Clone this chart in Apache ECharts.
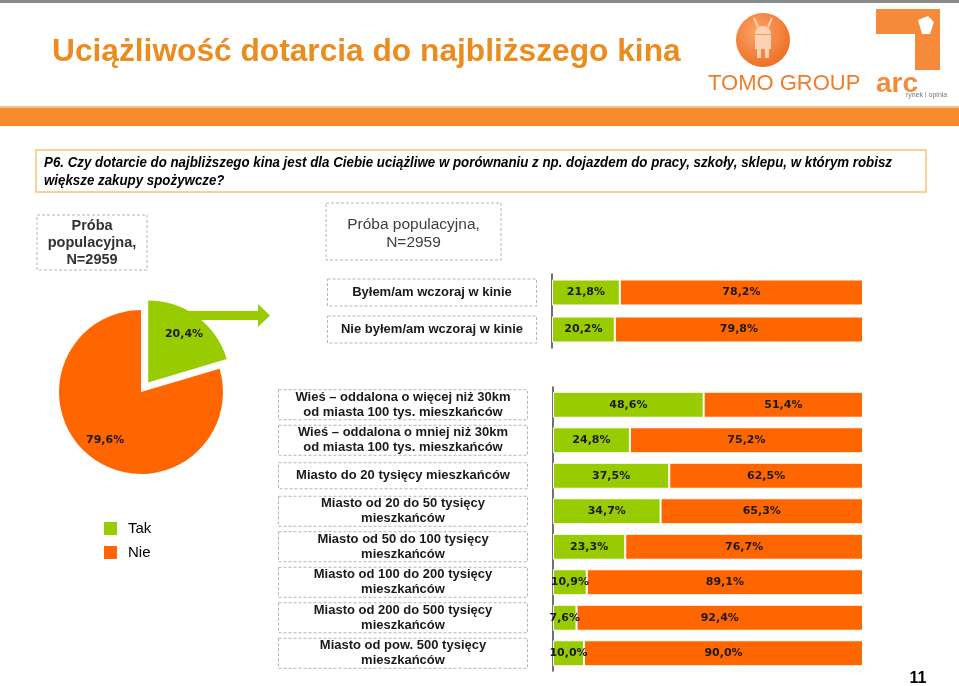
<!DOCTYPE html>
<html><head><meta charset="utf-8">
<script src="https://cdn.jsdelivr.net/npm/echarts@6/dist/echarts.min.js"></script>
<style>html,body{margin:0;padding:0;background:#fff}#c{width:959px;height:686px}</style>
</head><body><div id="c"></div>
<script>
// ---------- DATA ----------
const legendNames = ['Tak', 'Nie'];
const pieValues = [20.4, 79.6];
const visitCategories = ['Byłem/am wczoraj w kinie', 'Nie byłem/am wczoraj w kinie'];
const visitTak = [21.8, 20.2];
const visitNie = [78.2, 79.8];
const placeCategories = [
  'Wieś – oddalona o więcej niż 30km\nod miasta 100 tys. mieszkańców',
  'Wieś – oddalona o mniej niż 30km\nod miasta 100 tys. mieszkańców',
  'Miasto do 20 tysięcy mieszkańców',
  'Miasto od 20 do 50 tysięcy\nmieszkańców',
  'Miasto od 50 do 100 tysięcy\nmieszkańców',
  'Miasto od 100 do 200 tysięcy\nmieszkańców',
  'Miasto od 200 do 500 tysięcy\nmieszkańców',
  'Miasto od pow. 500 tysięcy\nmieszkańców'
];
const placeTak = [48.6, 24.8, 37.5, 34.7, 23.3, 10.9, 7.6, 10.0];
const placeNie = [51.4, 75.2, 62.5, 65.3, 76.7, 89.1, 92.4, 90.0];

const titleText = 'Uciążliwość dotarcia do najbliższego kina';
const questionLines = [
  'P6. Czy dotarcie do najbliższego kina jest dla Ciebie uciążliwe w porównaniu z np. dojazdem do pracy, szkoły, sklepu, w którym robisz',
  'większe zakupy spożywcze?'
];
const sampleLeft = ['Próba', 'populacyjna,', 'N=2959'];
const sampleTop = ['Próba populacyjna,', 'N=2959'];
const pageNumber = '11';

// ---------- STYLE ----------
const GREEN = '#99CC00';
const ORANGE = '#FF6600';
const SANS = '"Liberation Sans", Arial, sans-serif';
const LABEL_FONT = '"DejaVu Sans", Verdana, sans-serif';

function fmt(v) { return v.toFixed(1).replace('.', ',') + '%'; }
const mctx = document.createElement('canvas').getContext('2d');
function measure(font, text) { mctx.font = font; return mctx.measureText(text).width; }

// question text: fit first line to the box width (narrow italic look)
const qFont = 'italic bold 14px ' + SANS;
const qScale = 848 / measure(qFont, questionLines[0]);
// title: fit to width
const tBase = measure('bold 32px ' + SANS, titleText);
const tSize = 32 * 628 / tBase;

const chart = echarts.init(document.getElementById('c'), null, { renderer: 'canvas' });

function barSeries(name, data, color, idx, stack) {
  return {
    type: 'bar', name, data, stack, xAxisIndex: idx, yAxisIndex: idx, barWidth: 26,
    itemStyle: { color, borderColor: '#ffffff', borderWidth: 1 },
    label: {
      show: true, position: 'inside', formatter: p => fmt(p.value),
      color: '#1a1a1a', fontFamily: LABEL_FONT, fontWeight: 'bold', fontSize: 11
    },
    emphasis: { disabled: true }, silent: true
  };
}

const catLabelBase = {
  align: 'center', color: '#1a1a1a', fontFamily: SANS, fontWeight: 'bold',
  fontSize: 13, lineHeight: 15, borderColor: '#b4b4b4', borderWidth: 1, borderType: [3, 2]
};

const graphics = [
  // top gray line
  { type: 'rect', shape: { x: 0, y: 0, width: 959, height: 3 }, style: { fill: '#8a8a8a' } },
  // title
  { type: 'text', x: 52, y: 52, style: { text: titleText, font: 'bold ' + tSize.toFixed(1) + 'px ' + SANS, fill: '#EB8C1E', textVerticalAlign: 'middle' } },
  // orange band
  { type: 'rect', shape: { x: 0, y: 107, width: 959, height: 19 }, style: { fill: '#F68B2E' } },
  { type: 'rect', shape: { x: 0, y: 106, width: 959, height: 2 }, style: { fill: '#F9BE86' } },
  // question box
  { type: 'rect', shape: { x: 36, y: 150, width: 890, height: 42 }, style: { fill: '#fff', stroke: '#F8C46E', lineWidth: 1.5 } },
  { type: 'text', x: 44, y: 163, scaleX: qScale, style: { text: questionLines[0], font: qFont, fill: '#000', textVerticalAlign: 'middle' } },
  { type: 'text', x: 44, y: 181, scaleX: qScale, style: { text: questionLines[1], font: qFont, fill: '#000', textVerticalAlign: 'middle' } },
  // sample boxes
  { type: 'rect', shape: { x: 37, y: 215, width: 110, height: 55 }, style: { fill: 'none', stroke: '#b4b4b4', lineWidth: 1, lineDash: [3, 2] } },
  { type: 'rect', shape: { x: 326, y: 203, width: 175, height: 57 }, style: { fill: 'none', stroke: '#b4b4b4', lineWidth: 1, lineDash: [3, 2] } },
  // arrow
  { type: 'polygon', shape: { points: [[188, 311], [258, 311], [258, 304], [270, 315.5], [258, 327], [258, 320], [188, 320]] }, style: { fill: GREEN } },
  // page number
  { type: 'text', x: 918, y: 679, style: { text: pageNumber, font: 'bold 16px ' + SANS, fill: '#000', textAlign: 'center', textVerticalAlign: 'middle' } },
  // logo: TOMO GROUP
  { type: 'circle', shape: { cx: 763, cy: 40, r: 27 }, style: { fill: new echarts.graphic.RadialGradient(0.4, 0.35, 0.8, [{ offset: 0, color: '#FBA468' }, { offset: 1, color: '#EC6519' }]) } },
  { type: 'sector', shape: { cx: 763, cy: 34, r: 8, r0: 0, startAngle: Math.PI, endAngle: Math.PI * 2 }, style: { fill: '#FCD2B4' } },
  { type: 'rect', shape: { x: 755, y: 35, width: 16, height: 14 }, style: { fill: '#FCD2B4' } },
  { type: 'rect', shape: { x: 757, y: 49, width: 4, height: 9 }, style: { fill: '#FCD2B4' } },
  { type: 'rect', shape: { x: 765, y: 49, width: 4, height: 9 }, style: { fill: '#FCD2B4' } },
  { type: 'line', shape: { x1: 758, y1: 27, x2: 754, y2: 18 }, style: { stroke: '#FCD2B4', lineWidth: 2 } },
  { type: 'line', shape: { x1: 768, y1: 27, x2: 772, y2: 18 }, style: { stroke: '#FCD2B4', lineWidth: 2 } },
  { type: 'text', x: 708, y: 84, style: { text: 'TOMO GROUP', font: '22px ' + SANS, fill: '#F07C2C', textVerticalAlign: 'middle' } },
  // logo: arc
  { type: 'polygon', shape: { points: [[876, 9], [940, 9], [940, 70], [915, 70], [915, 34], [876, 34]] }, style: { fill: '#F58A3A' } },
  { type: 'polygon', shape: { points: [[918, 20], [928, 16], [934, 22], [930, 34], [922, 34]] }, style: { fill: '#ffffff' } },
  { type: 'text', x: 876, y: 84, style: { text: 'arc', font: 'bold 28px ' + SANS, fill: '#F58A3A', textVerticalAlign: 'middle' } },
  { type: 'text', x: 906, y: 95, style: { text: 'rynek i opinia', font: '7px ' + SANS, fill: '#777', textVerticalAlign: 'middle' } }
];
sampleLeft.forEach((t, i) => graphics.push({ type: 'text', x: 92, y: 226 + i * 17, style: { text: t, font: 'bold 14.5px ' + SANS, fill: '#333', textAlign: 'center', textVerticalAlign: 'middle' } }));
sampleTop.forEach((t, i) => graphics.push({ type: 'text', x: 413.5, y: 225 + i * 18, style: { text: t, font: '15.5px ' + SANS, fill: '#404040', textAlign: 'center', textVerticalAlign: 'middle' } }));

const option = {
  animation: false,
  color: [GREEN, ORANGE],
  legend: {
    data: legendNames, orient: 'vertical', left: 97, top: 515, itemWidth: 15, itemHeight: 15, itemGap: 7,
    icon: 'rect', selectedMode: false,
    textStyle: { fontSize: 15, color: '#000', fontFamily: SANS, padding: [0, 0, 0, 5] }
  },
  grid: [
    { left: 552, top: 274, width: 311, height: 74 },
    { left: 553, top: 387, width: 310, height: 284 }
  ],
  xAxis: [
    { gridIndex: 0, type: 'value', min: 0, max: 100, show: false },
    { gridIndex: 1, type: 'value', min: 0, max: 100, show: false }
  ],
  yAxis: [
    {
      gridIndex: 0, type: 'category', inverse: true, data: visitCategories,
      axisLine: { lineStyle: { color: '#404040', width: 1.5 } },
      axisTick: { length: 4, lineStyle: { color: '#404040', width: 1.5 } },
      axisLabel: Object.assign({}, catLabelBase, { margin: 120, width: 201, padding: [6, 4] })
    },
    {
      gridIndex: 1, type: 'category', inverse: true,
      data: placeCategories.map(c => c.indexOf('\n') < 0 ? { value: c, textStyle: { align: 'center', padding: [5.5, 4] } } : c),
      axisLine: { lineStyle: { color: '#404040', width: 1.5 } },
      axisTick: { length: 4, lineStyle: { color: '#404040', width: 1.5 } },
      axisLabel: Object.assign({}, catLabelBase, { margin: 150, width: 241, padding: [0, 4] })
    }
  ],
  series: [
    {
      type: 'pie', name: 'pie', center: [141, 392], radius: [0, 82], startAngle: 90, clockwise: true,
      selectedMode: 'single', selectedOffset: 12, silent: true,
      label: { show: false }, labelLine: { show: false }, emphasis: { disabled: true },
      data: legendNames.map((n, i) => ({ name: n, value: pieValues[i], selected: i === 0 }))
    },
    {
      type: 'pie', name: 'pieLabels', center: [141, 392], radius: [32, 82], startAngle: 90, clockwise: true,
      selectedMode: 'single', selectedOffset: 12, silent: true, z: 3,
      itemStyle: { color: 'rgba(0,0,0,0)' },
      label: { show: true, position: 'inside', formatter: p => fmt(p.value), color: '#1a1a1a', fontFamily: LABEL_FONT, fontWeight: 'bold', fontSize: 11 },
      labelLine: { show: false }, emphasis: { disabled: true },
      data: legendNames.map((n, i) => ({ name: n, value: pieValues[i], selected: i === 0 }))
    },
    barSeries('Tak', visitTak, GREEN, 0, 'visit'),
    barSeries('Nie', visitNie, ORANGE, 0, 'visit'),
    barSeries('Tak', placeTak, GREEN, 1, 'place'),
    barSeries('Nie', placeNie, ORANGE, 1, 'place')
  ],
  graphic: graphics
};
chart.setOption(option);
</script>
</body></html>
